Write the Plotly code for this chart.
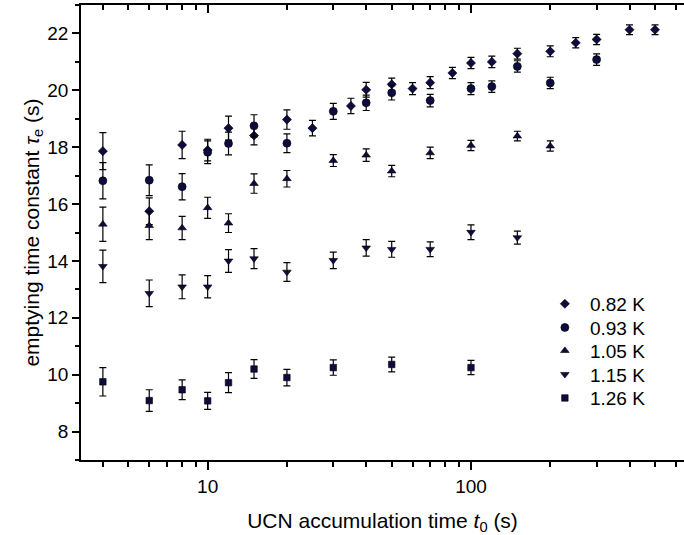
import plotly.graph_objects as go

# ---- data ----
t_082 = [4, 6, 8, 10, 12, 15, 20, 25, 35, 40, 50, 60, 70, 85, 100, 120, 150, 200, 250, 300, 400, 500]
tau_082 = [17.86, 15.75, 18.08, 17.9, 18.67, 18.41, 18.97, 18.67, 19.45, 20.02, 20.21, 20.06, 20.27, 20.61, 20.96, 21.0, 21.29, 21.37, 21.67, 21.79, 22.13, 22.13]
err_082 = [0.65, 0.47, 0.48, 0.38, 0.42, 0.33, 0.34, 0.27, 0.27, 0.26, 0.22, 0.21, 0.21, 0.2, 0.2, 0.2, 0.19, 0.19, 0.18, 0.18, 0.17, 0.17]

t_093 = [4, 6, 8, 10, 12, 15, 20, 30, 40, 50, 70, 100, 120, 150, 200, 300]
tau_093 = [16.82, 16.84, 16.61, 17.82, 18.13, 18.75, 18.14, 19.26, 19.56, 19.91, 19.64, 20.06, 20.13, 20.84, 20.26, 21.08]
err_093 = [0.64, 0.54, 0.46, 0.4, 0.4, 0.39, 0.33, 0.28, 0.27, 0.25, 0.22, 0.21, 0.2, 0.2, 0.2, 0.2]

t_105 = [4, 6, 8, 10, 12, 15, 20, 30, 40, 50, 70, 100, 150, 200]
tau_105 = [15.29, 15.24, 15.16, 15.87, 15.33, 16.72, 16.89, 17.53, 17.72, 17.16, 17.8, 18.06, 18.39, 18.04]
err_105 = [0.6, 0.49, 0.41, 0.37, 0.33, 0.34, 0.29, 0.21, 0.22, 0.2, 0.2, 0.18, 0.17, 0.18]

t_115 = [4, 6, 8, 10, 12, 15, 20, 30, 40, 50, 70, 100, 150]
tau_115 = [13.81, 12.86, 13.09, 13.09, 14.0, 14.08, 13.61, 14.02, 14.46, 14.41, 14.41, 15.01, 14.82]
err_115 = [0.57, 0.47, 0.42, 0.39, 0.4, 0.35, 0.33, 0.29, 0.29, 0.28, 0.26, 0.26, 0.23]

t_126 = [4, 6, 8, 10, 12, 15, 20, 30, 50, 100]
tau_126 = [9.75, 9.09, 9.47, 9.08, 9.72, 10.2, 9.9, 10.25, 10.36, 10.25]
err_126 = [0.5, 0.38, 0.35, 0.3, 0.35, 0.33, 0.29, 0.27, 0.26, 0.25]

series_names = ["0.82 K", "0.93 K", "1.05 K", "1.15 K", "1.26 K"]

x_major = [10, 100]
x_minor = [4, 5, 6, 7, 8, 9, 20, 30, 40, 50, 60, 70, 80, 90, 200, 300, 400, 500, 600]
y_major = [8, 10, 12, 14, 16, 18, 20, 22]

# ---- style ----
MARK = "#0c0c40"
FONT = "Liberation Sans, Arial, sans-serif"
series = [
    (t_082, tau_082, err_082, "diamond", 7),
    (t_093, tau_093, err_093, "circle", 8),
    (t_105, tau_105, err_105, "triangle-up", 7.5),
    (t_115, tau_115, err_115, "triangle-down", 7.5),
    (t_126, tau_126, err_126, "square", 6.5),
]
legend_ids = ["legend", "legend2", "legend3", "legend4", "legend5"]
legend_y = [0.343, 0.291, 0.240, 0.188, 0.136]

fig = go.Figure()
for name, lid, (tx, ty, te, sym, sz) in zip(series_names, legend_ids, series):
    fig.add_trace(go.Scatter(
        x=tx, y=ty, mode="markers", name=name, legend=lid,
        marker=dict(symbol=sym, size=sz, color=MARK, line=dict(width=0.6, color="#000000")),
        error_y=dict(type="data", array=te, visible=True, color="#000000", thickness=1.2, width=3.5),
    ))

# invisible trace to host the top axis
fig.add_trace(go.Scatter(x=t_082, y=tau_082, xaxis="x2", mode="markers",
                         marker=dict(opacity=0), showlegend=False, hoverinfo="skip"))

xr = [0.519, 2.809]
layout_legends = {}
for lid, ly in zip(legend_ids, legend_y):
    layout_legends[lid] = dict(x=0.761, y=ly, xanchor="left", yanchor="middle",
                               bgcolor="rgba(0,0,0,0)", font=dict(size=19, family=FONT),
                               itemwidth=40)

fig.update_layout(
    width=684, height=535,
    margin=dict(l=81, r=0, t=5, b=75),
    paper_bgcolor="white", plot_bgcolor="white",
    font=dict(family=FONT, size=19, color="#000000"),
    showlegend=True,
    xaxis=dict(type="log", range=xr, showline=True, linecolor="#000000", linewidth=1.5,
               mirror=False, ticks="outside", ticklen=8, tickwidth=1.5, tickcolor="#000000",
               tickvals=x_major, ticktext=[str(v) for v in x_major],
               minor=dict(tickvals=x_minor, ticks="outside", ticklen=5, tickwidth=1.5, tickcolor="#000000", showgrid=False),
               showgrid=False, zeroline=False,
               tickfont=dict(size=19, family=FONT),
               title=dict(text="UCN accumulation time <i>t</i><sub>0</sub> (s)", font=dict(size=21, family=FONT), standoff=18)),
    xaxis2=dict(type="log", range=xr, overlaying="x", side="top", anchor="y",
                showline=True, linecolor="#000000", linewidth=1.5,
                ticks="inside", ticklen=8, tickwidth=1.5, tickcolor="#000000",
                tickvals=x_major, showticklabels=False,
                minor=dict(tickvals=x_minor, ticks="inside", ticklen=5, tickwidth=1.5, tickcolor="#000000", showgrid=False),
                showgrid=False, zeroline=False),
    yaxis=dict(range=[7, 23], showline=True, linecolor="#000000", linewidth=1.5,
               mirror=False, ticks="outside", ticklen=7, tickwidth=1.5, tickcolor="#000000",
               tickvals=y_major,
               minor=dict(dtick=1, tick0=7, ticks="outside", ticklen=4, tickwidth=1.5, tickcolor="#000000", showgrid=False),
               showgrid=False, zeroline=False,
               tickfont=dict(size=19, family=FONT),
               title=dict(text="emptying time constant <i>τ</i><sub>e</sub> (s)", font=dict(size=21, family=FONT), standoff=2)),
    **layout_legends,
)

fig.write_html("out.html", config={"displayModeBar": False},
               post_script="document.body.style.margin='0';document.body.style.padding='0';")
